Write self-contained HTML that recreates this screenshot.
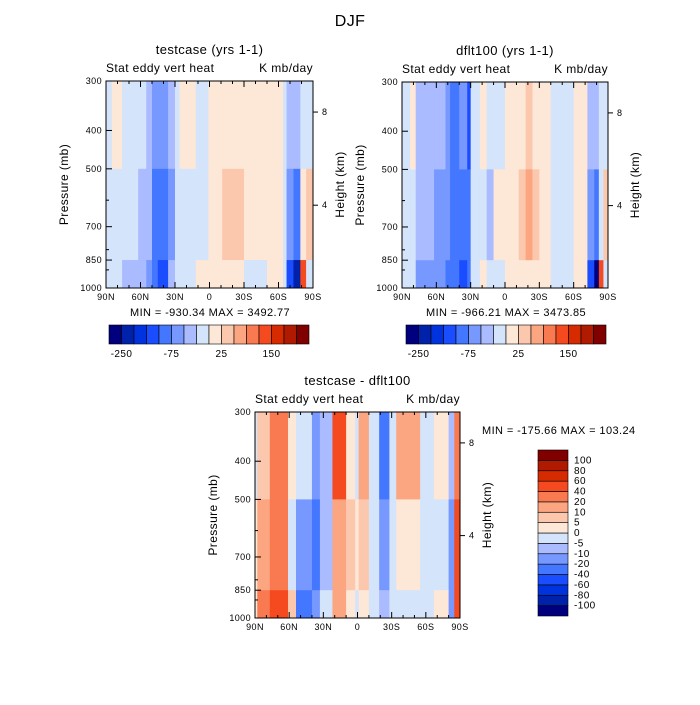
<!DOCTYPE html>
<html><head><meta charset="utf-8"><style>
html,body{margin:0;padding:0;background:#fff}
svg text{font-family:"Liberation Sans",sans-serif;fill:#000;letter-spacing:0.4px}
</style></head><body>
<svg id="chart" width="700" height="700" viewBox="0 0 700 700" xmlns="http://www.w3.org/2000/svg">
<text x="350" y="26" font-size="16" text-anchor="middle">DJF</text>
</svg>
<script>
// colour levels (16 classes)
const colors=["#00007f","#0022aa","#0033dd","#1a4dff","#4477ff","#7799ff","#aabbff","#d3e4fb","#fde7d7","#fcc8ad","#fca581","#f97a50","#f54a1f","#d62a00","#b01a00","#800000"];
const latTicks=["90N","60N","30N","0","30S","60S","90S"];
const presTicks=[300,400,500,700,850,1000];
const topBarLabels=["-250","-75","25","150"];
const diffBarLabels=["100","80","60","40","20","10","5","0","-5","-10","-20","-40","-60","-80","-100"];
// band edges in degrees from 90N; class index for layers [300-500, 500-850, 850-1000]
const edgesA=[0,5,14,28,35,40,45,54,60,64,78,89,101,108,114,120,140,154,157,163,169,174,180];
const topA=[7,8,7,7,6,5,5,6,7,8,7,8,8,8,8,8,8,7,6,6,7,7];
const midA=[7,7,7,6,6,4,4,5,7,7,7,8,9,9,9,8,8,7,5,4,8,9];
const botA=[7,7,6,6,5,4,3,6,7,7,8,8,8,8,8,7,8,7,3,1,12,7];
const edgesB=[0,7,12,28,38,42,50,57,60,68,74,80,90,102,108,114,120,130,150,162,168,172,176,180];
const topB=[7,8,6,6,5,4,5,3,7,8,7,7,8,8,9,8,8,7,8,6,6,7,7];
const midB=[7,7,6,5,5,4,4,4,7,7,6,8,8,9,10,9,8,7,8,5,4,7,9];
const botB=[7,7,5,5,4,4,3,4,7,8,7,7,8,8,8,8,8,7,8,3,0,12,7];
const edgesD=[0,2,13,29,36,50,57,68,80,88,91,100,109,118,124,145,157,170,175,180];
const topD=[7,9,11,8,7,5,6,12,8,7,10,7,4,7,10,7,8,6,11,7];
const midD=[8,10,11,7,5,4,6,10,9,8,9,7,5,7,8,7,7,5,12,7];
const botD=[8,11,12,9,4,5,7,10,8,7,8,7,6,7,7,7,8,5,12,6];
const S="http://www.w3.org/2000/svg";
const svg=document.getElementById('chart');
function mk(t,a,p){const e=document.createElementNS(S,t);for(const k in a)e.setAttribute(k,a[k]);(p||svg).appendChild(e);return e;}
function txt(x,y,s,size,anchor,p){const e=mk('text',{x:x,y:y,'font-size':size,'text-anchor':anchor||'middle'},p);e.textContent=s;return e;}
function panel(name,x0,y0,w,h,title,edges,top,mid,bot){
 const g=mk('g',{});
 
 
 const xs=d=>x0+d/180*w;
 const ys=p=>y0+Math.log(p/300)/Math.log(1000/300)*h;
 const layers=[[300,500,top],[500,850,mid],[850,1000,bot]];
 for(const [p1,p2,arr] of layers){
  for(let i=0;i<arr.length;i++){
   const r=mk('rect',{x:xs(edges[i]),y:ys(p1),width:xs(edges[i+1])-xs(edges[i])+0.5,height:ys(p2)-ys(p1)+0.5,fill:colors[arr[i]]},g);
   
   
  }
 }
 mk('rect',{x:x0,y:y0,width:w,height:h,fill:'none',stroke:'#000','stroke-width':1},g);
 latTicks.forEach((l,i)=>{const x=x0+i*w/6;mk('line',{x1:x,x2:x,y1:y0+h,y2:y0+h-6,stroke:'#000'},g);mk('line',{x1:x,x2:x,y1:y0,y2:y0+6,stroke:'#000'},g);txt(x,y0+h+12,l,9,'middle',g);});
 for(let d=10;d<180;d+=10){if(d%30){const x=xs(d);mk('line',{x1:x,x2:x,y1:y0+h,y2:y0+h-3,stroke:'#000'},g);mk('line',{x1:x,x2:x,y1:y0,y2:y0+3,stroke:'#000'},g);}}
 presTicks.forEach(p=>{const y=ys(p);mk('line',{x1:x0,x2:x0+6,y1:y,y2:y,stroke:'#000'},g);txt(x0-4,y+3,String(p),9,'end',g);});
 [600,800,900].forEach(p=>{const y=ys(p);mk('line',{x1:x0,x2:x0+3,y1:y,y2:y,stroke:'#000'},g);});
 [[8,0.15],[4,0.6]].forEach(([k,f])=>{const y=y0+f*h;mk('line',{x1:x0+w,x2:x0+w+5,y1:y,y2:y,stroke:'#000'},g);txt(x0+w+9,y+3,String(k),9,'start',g);});
 txt(x0+w/2,y0-27,title,13,'middle',g);
 txt(x0,y0-9,'Stat eddy vert heat',12,'start',g);
 txt(x0+w,y0-9,'K mb/day',12,'end',g);
 const yl=txt(0,0,'Pressure (mb)',12,'middle',g);yl.setAttribute('transform',`translate(${x0-38},${y0+h/2}) rotate(-90)`);
 const yr=txt(0,0,'Height (km)',12,'middle',g);yr.setAttribute('transform',`translate(${x0+w+31},${y0+h/2}) rotate(-90)`);
}
panel('panel-testcase',106,81,207,207,'testcase (yrs 1-1)',edgesA,topA,midA,botA);
panel('panel-dflt100',402,82,206,206,'dflt100 (yrs 1-1)',edgesB,topB,midB,botB);
panel('panel-difference',255,412,205,206,'testcase - dflt100',edgesD,topD,midD,botD);
txt(210,316,'MIN = -930.34   MAX = 3492.77',11);
txt(506,316,'MIN = -966.21   MAX = 3473.85',11);
txt(482,434,'MIN = -175.66   MAX = 103.24',11,'start');
function hbar(name,x0){
 const g=mk('g',{});
 
 
 const bw=12.5;
 colors.forEach((c,i)=>mk('rect',{x:x0+i*bw,y:325,width:bw,height:19,fill:c,stroke:'#000','stroke-width':0.6},g));
 topBarLabels.forEach((l,i)=>txt(x0+(1+4*i)*bw,357,l,10,'middle',g));
}
hbar('colorbar-a',109);
hbar('colorbar-b',406);
(function(){
 const g=mk('g',{});
 
 
 const bh=166/16;
 colors.forEach((c,i)=>mk('rect',{x:538,y:616-(i+1)*bh,width:30,height:bh,fill:c,stroke:'#000','stroke-width':0.6},g));
 diffBarLabels.forEach((l,i)=>txt(574,450+(i+1)*bh+3,l,10,'start',g));
})();
</script>
</body></html>
